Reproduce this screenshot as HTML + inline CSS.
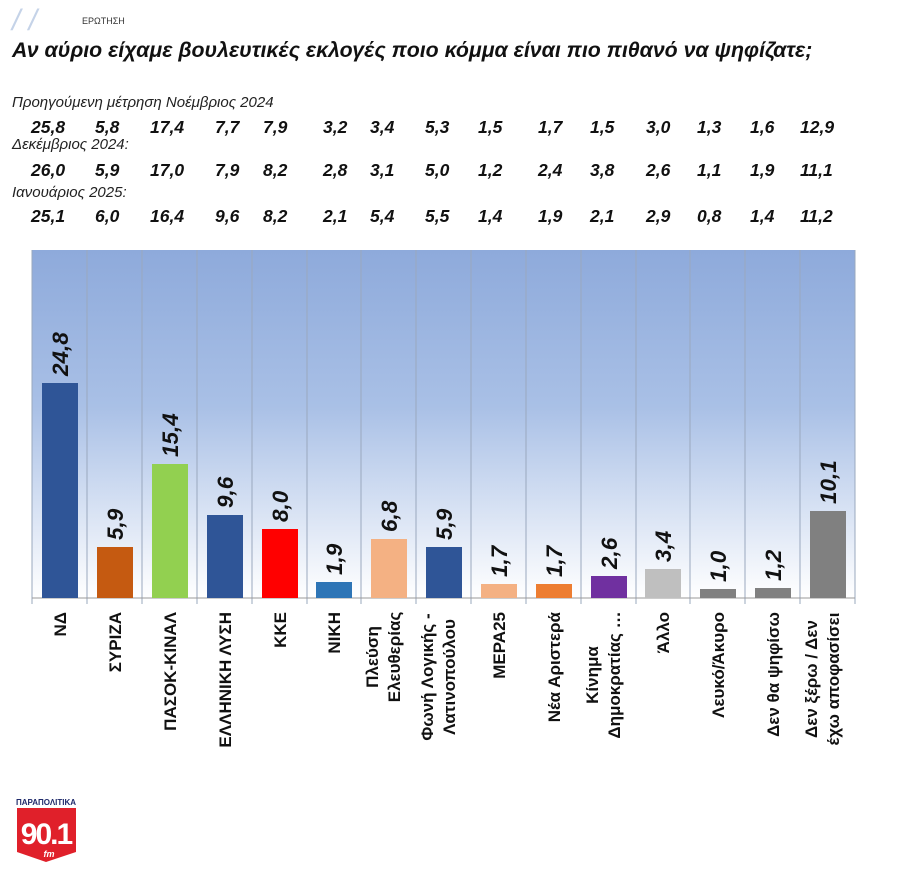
<!DOCTYPE html>
<html><head><meta charset="utf-8"><style>
body{margin:0;background:#fff;width:900px;height:884px;overflow:hidden;font-family:"Liberation Sans",sans-serif}
</style></head><body>
<svg width="900" height="884" xmlns="http://www.w3.org/2000/svg" font-family="Liberation Sans, sans-serif">
<defs>
<linearGradient id="bg" x1="0" y1="0" x2="0" y2="1">
<stop offset="0" stop-color="#8eaadb"/><stop offset="0.45" stop-color="#a9c0e6"/><stop offset="1" stop-color="#ffffff"/>
</linearGradient>
</defs>
<text x="12" y="30" font-size="30" fill="#c5d3e8" font-style="italic">/ /</text>
<text x="82" y="24" font-size="9" fill="#333">ΕΡΩΤΗΣΗ</text>
<text x="12" y="57" font-size="21.3" font-weight="bold" font-style="italic" fill="#111">Αν αύριο είχαμε βουλευτικές εκλογές ποιο κόμμα είναι πιο πιθανό να ψηφίζατε;</text>
<g font-size="15" font-style="italic" fill="#222">
<text x="12" y="107">Προηγούμενη μέτρηση Νοέμβριος 2024</text>
<text x="12" y="149">Δεκέμβριος 2024:</text>
<text x="12" y="197">Ιανουάριος 2025:</text>
</g>
<g font-size="17.5" font-weight="bold" font-style="italic" fill="#111">
<text x="31" y="133">25,8</text><text x="95" y="133">5,8</text><text x="150" y="133">17,4</text><text x="215" y="133">7,7</text><text x="263" y="133">7,9</text><text x="323" y="133">3,2</text><text x="370" y="133">3,4</text><text x="425" y="133">5,3</text><text x="478" y="133">1,5</text><text x="538" y="133">1,7</text><text x="590" y="133">1,5</text><text x="646" y="133">3,0</text><text x="697" y="133">1,3</text><text x="750" y="133">1,6</text><text x="800" y="133">12,9</text>
<text x="31" y="176">26,0</text><text x="95" y="176">5,9</text><text x="150" y="176">17,0</text><text x="215" y="176">7,9</text><text x="263" y="176">8,2</text><text x="323" y="176">2,8</text><text x="370" y="176">3,1</text><text x="425" y="176">5,0</text><text x="478" y="176">1,2</text><text x="538" y="176">2,4</text><text x="590" y="176">3,8</text><text x="646" y="176">2,6</text><text x="697" y="176">1,1</text><text x="750" y="176">1,9</text><text x="800" y="176">11,1</text>
<text x="31" y="222">25,1</text><text x="95" y="222">6,0</text><text x="150" y="222">16,4</text><text x="215" y="222">9,6</text><text x="263" y="222">8,2</text><text x="323" y="222">2,1</text><text x="370" y="222">5,4</text><text x="425" y="222">5,5</text><text x="478" y="222">1,4</text><text x="538" y="222">1,9</text><text x="590" y="222">2,1</text><text x="646" y="222">2,9</text><text x="697" y="222">0,8</text><text x="750" y="222">1,4</text><text x="800" y="222">11,2</text>
</g>
<rect x="32" y="250" width="823" height="348" fill="url(#bg)"/>
<g stroke="#9aa8be" stroke-width="1">
<line x1="32" y1="250" x2="32" y2="604"/><line x1="87" y1="250" x2="87" y2="604"/><line x1="142" y1="250" x2="142" y2="604"/><line x1="197" y1="250" x2="197" y2="604"/><line x1="252" y1="250" x2="252" y2="604"/><line x1="307" y1="250" x2="307" y2="604"/><line x1="361" y1="250" x2="361" y2="604"/><line x1="416" y1="250" x2="416" y2="604"/><line x1="471" y1="250" x2="471" y2="604"/><line x1="526" y1="250" x2="526" y2="604"/><line x1="581" y1="250" x2="581" y2="604"/><line x1="636" y1="250" x2="636" y2="604"/><line x1="690" y1="250" x2="690" y2="604"/><line x1="745" y1="250" x2="745" y2="604"/><line x1="800" y1="250" x2="800" y2="604"/><line x1="855" y1="250" x2="855" y2="604"/>
<line x1="32" y1="598" x2="855" y2="598" stroke="#999"/>
</g>
<g>
<rect x="42" y="383" width="36" height="215" fill="#2f5597"/>
<rect x="97" y="547" width="36" height="51" fill="#c55a11"/>
<rect x="152" y="464" width="36" height="134" fill="#92d050"/>
<rect x="207" y="515" width="36" height="83" fill="#2f5597"/>
<rect x="262" y="529" width="36" height="69" fill="#ff0000"/>
<rect x="316" y="582" width="36" height="16" fill="#2e75b6"/>
<rect x="371" y="539" width="36" height="59" fill="#f4b183"/>
<rect x="426" y="547" width="36" height="51" fill="#2f5597"/>
<rect x="481" y="584" width="36" height="14" fill="#f4b183"/>
<rect x="536" y="584" width="36" height="14" fill="#ed7d31"/>
<rect x="591" y="576" width="36" height="22" fill="#7030a0"/>
<rect x="645" y="569" width="36" height="29" fill="#bfbfbf"/>
<rect x="700" y="589" width="36" height="9" fill="#808080"/>
<rect x="755" y="588" width="36" height="10" fill="#808080"/>
<rect x="810" y="511" width="36" height="87" fill="#808080"/>
</g>
<g font-size="22.5" font-weight="bold" font-style="italic" fill="#111">
<text transform="translate(68,376) rotate(-90)">24,8</text>
<text transform="translate(123,540) rotate(-90)">5,9</text>
<text transform="translate(178,457) rotate(-90)">15,4</text>
<text transform="translate(233,508) rotate(-90)">9,6</text>
<text transform="translate(288,522) rotate(-90)">8,0</text>
<text transform="translate(342,575) rotate(-90)">1,9</text>
<text transform="translate(397,532) rotate(-90)">6,8</text>
<text transform="translate(452,540) rotate(-90)">5,9</text>
<text transform="translate(507,577) rotate(-90)">1,7</text>
<text transform="translate(562,577) rotate(-90)">1,7</text>
<text transform="translate(617,569) rotate(-90)">2,6</text>
<text transform="translate(671,562) rotate(-90)">3,4</text>
<text transform="translate(726,582) rotate(-90)">1,0</text>
<text transform="translate(781,581) rotate(-90)">1,2</text>
<text transform="translate(836,504) rotate(-90)">10,1</text>
</g>
<g font-size="17" font-weight="bold" fill="#111" text-anchor="end">
<text transform="translate(66,612) rotate(-90)">ΝΔ</text>
<text transform="translate(121,612) rotate(-90)">ΣΥΡΙΖΑ</text>
<text transform="translate(176,612) rotate(-90)">ΠΑΣΟΚ-ΚΙΝΑΛ</text>
<text transform="translate(231,612) rotate(-90)">ΕΛΛΗΝΙΚΗ ΛΥΣΗ</text>
<text transform="translate(286,612) rotate(-90)">ΚΚΕ</text>
<text transform="translate(340,612) rotate(-90)">ΝΙΚΗ</text>
<text transform="translate(505,612) rotate(-90)">ΜΕΡΑ25</text>
<text transform="translate(560,612) rotate(-90)">Νέα Αριστερά</text>
<text transform="translate(669,612) rotate(-90)">Άλλο</text>
<text transform="translate(724,612) rotate(-90)">Λευκό/Άκυρο</text>
<text transform="translate(779,612) rotate(-90)">Δεν θα ψηφίσω</text>
</g>
<g font-size="17" font-weight="bold" fill="#111" text-anchor="middle">
<text transform="translate(378,657) rotate(-90)">Πλεύση</text>
<text transform="translate(400,657) rotate(-90)">Ελευθερίας</text>
<text transform="translate(433,677) rotate(-90)">Φωνή Λογικής -</text>
<text transform="translate(455,677) rotate(-90)">Λατινοπούλου</text>
<text transform="translate(598,675) rotate(-90)">Κίνημα</text>
<text transform="translate(620,675) rotate(-90)">Δημοκρατίας …</text>
<text transform="translate(817,679) rotate(-90)">Δεν ξέρω / Δεν</text>
<text transform="translate(839,679) rotate(-90)">έχω αποφασίσει</text>
</g>
<g>
<text x="46" y="805" font-size="8" font-weight="bold" fill="#1f2a6b" text-anchor="middle">ΠΑΡΑΠΟΛΙΤΙΚΑ</text>
<path d="M17,808 H76 V852 L46,862 L17,852 Z" fill="#e0202a"/>
<text x="46" y="844" font-size="30" font-weight="bold" fill="#fff" text-anchor="middle" letter-spacing="-2">90.1</text>
<text x="49" y="857" font-size="9" font-weight="bold" font-style="italic" fill="#fff" text-anchor="middle">fm</text>
</g>
</svg>
</body></html>
